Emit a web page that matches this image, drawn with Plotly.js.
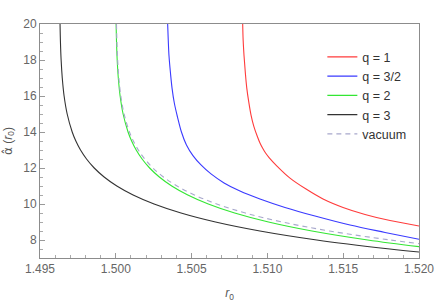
<!DOCTYPE html>
<html>
<head>
<meta charset="utf-8">
<script src="https://cdn.plot.ly/plotly-3.0.1.min.js"></script>
<style>html,body{margin:0;padding:0;background:#fff;}#chart{width:436px;height:303px;}</style>
</head>
<body>
<div id="chart"></div>
<script>
// Values (r0, deflection angle)
var q1_r = [1.50837, 1.50840, 1.50846, 1.50854, 1.50864, 1.50877, 1.50892, 1.50910, 1.50935, 1.50951, 1.50968, 1.50988, 1.51011, 1.51063, 1.51149, 1.51255, 1.51367, 1.51499, 1.51644, 1.51809, 1.52000];
var q1_a = [20.0, 19.11, 18.22, 17.33, 16.44, 15.67, 14.94, 14.33, 13.72, 13.39, 13.11, 12.83, 12.58, 12.11, 11.44, 10.83, 10.28, 9.81, 9.42, 9.08, 8.78];

var q32_r = [1.50342, 1.50346, 1.50351, 1.50360, 1.50371, 1.50386, 1.50407, 1.50433, 1.50466, 1.50509, 1.50562, 1.50628, 1.50714, 1.50819, 1.50951, 1.51116, 1.51314, 1.51545, 1.51776, 1.52000];
var q32_a = [20.0, 19.11, 18.22, 17.33, 16.44, 15.61, 14.83, 14.00, 13.28, 12.69, 12.17, 11.67, 11.17, 10.72, 10.28, 9.81, 9.33, 8.83, 8.42, 8.04];

var q2_r = [1.500021, 1.500048, 1.500092, 1.500165, 1.500285, 1.500482, 1.500808, 1.501044, 1.501345, 1.501734, 1.502230, 1.502872, 1.503690, 1.504750, 1.506100, 1.507840, 1.510071, 1.512940, 1.516620, 1.520000];
var q2_a = [20, 19, 18, 17, 16, 15, 14, 13.5, 13, 12.5, 12, 11.5, 11, 10.5, 10, 9.5, 9, 8.5, 8, 7.63];

var q3_r = [1.496322, 1.496349, 1.496394, 1.496469, 1.496590, 1.496793, 1.497125, 1.497365, 1.497673, 1.498069, 1.498577, 1.499230, 1.500068, 1.501144, 1.502525, 1.504300, 1.506577, 1.509505, 1.513256, 1.518080, 1.520000];
var q3_a = [20, 19, 18, 17, 16, 15, 14, 13.5, 13, 12.5, 12, 11.5, 11, 10.5, 10, 9.5, 9, 8.5, 8, 7.5, 7.33];

var vac_r = [1.500045, 1.500074, 1.500122, 1.500201, 1.500331, 1.500547, 1.500901, 1.501157, 1.501486, 1.501907, 1.502449, 1.503144, 1.504038, 1.505185, 1.506658, 1.508549, 1.510977, 1.514094, 1.518098, 1.520000];
var vac_a = [20, 19, 18, 17, 16, 15, 14, 13.5, 13, 12.5, 12, 11.5, 11, 10.5, 10, 9.5, 9, 8.5, 8, 7.80];

var names = ['q = 1', 'q = 3/2', 'q = 2', 'q = 3', 'vacuum'];
var xTicks = [1.495, 1.500, 1.505, 1.510, 1.515, 1.520];
var xTickText = ['1.495', '1.500', '1.505', '1.510', '1.515', '1.520'];
var yTicks = [8, 10, 12, 14, 16, 18, 20];

var FONT = 'Liberation Sans, Arial, sans-serif';
function tr(x, y, name, color, dash) {
  return {x: x, y: y, name: name, type: 'scatter', mode: 'lines',
    line: {color: color, width: 1.1, shape: 'spline', smoothing: 1, dash: dash || 'solid'}};
}
var data = [
  tr(q1_r, q1_a, names[0], '#ff3b3b'),
  tr(q32_r, q32_a, names[1], '#3a3aff'),
  tr(q2_r, q2_a, names[2], '#33e633'),
  tr(q3_r, q3_a, names[3], '#333333'),
  tr(vac_r, vac_a, names[4], '#a8a8cc', '5px,4px')
];
var axisCommon = {
  showline: true, linecolor: '#8c8c8c', linewidth: 1, mirror: true,
  ticks: 'inside', ticklen: 5, tickcolor: '#999', tickwidth: 1,
  showgrid: false, zeroline: false,
  tickfont: {family: FONT, size: 12, color: '#666'}
};
var layout = {
  width: 436, height: 303,
  margin: {l: 40, r: 17, t: 24, b: 45},
  paper_bgcolor: '#fff', plot_bgcolor: '#fff',
  showlegend: true,
  legend: {x: 0.745, y: 0.922, xanchor: 'left', yanchor: 'top', bgcolor: 'rgba(0,0,0,0)',
    font: {family: FONT, size: 12.5, color: '#333'}},
  xaxis: Object.assign({}, axisCommon, {
    range: [1.495, 1.520], tickvals: xTicks, ticktext: xTickText,
    minor: {dtick: 0.001, ticks: 'inside', ticklen: 3, tickcolor: '#aaa'},
    title: {text: '<i>r</i><sub>0</sub>', standoff: 13,
      font: {family: FONT, size: 12, color: '#555'}}
  }),
  yaxis: Object.assign({}, axisCommon, {
    range: [7, 20], tickvals: yTicks,
    minor: {dtick: 0.5, ticks: 'inside', ticklen: 3, tickcolor: '#aaa'},
    title: {text: '<span style="font-family:DejaVu Sans">α\u0302</span> (<i>r</i><sub>0</sub>)', standoff: 8,
      font: {family: FONT, size: 12, color: '#555'}}
  })
};
Plotly.newPlot('chart', data, layout, {displayModeBar: false, staticPlot: true});
</script>
</body>
</html>
